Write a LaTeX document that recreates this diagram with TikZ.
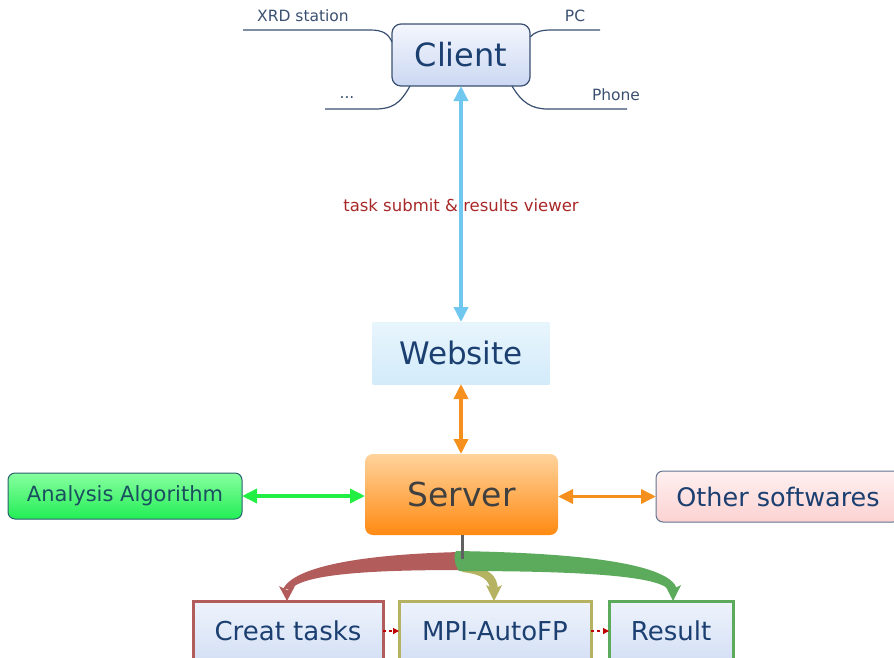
\documentclass[tikz,border=0pt]{standalone}
\usepackage{fontspec}
\setmainfont{DejaVu Sans}
\usetikzlibrary{arrows.meta}
\definecolor{txtblue}{HTML}{1B3F70}
\definecolor{linec}{HTML}{3A5070}
\definecolor{skyc}{HTML}{70C8F0}
\definecolor{orangec}{HTML}{F5901E}
\definecolor{greenarr}{HTML}{22EE44}
\definecolor{labelred}{HTML}{A82828}
\definecolor{redc}{HTML}{B25C5C}
\definecolor{olivec}{HTML}{B5B262}
\definecolor{greenc}{HTML}{5CAB5C}
\definecolor{stemc}{HTML}{606060}
\definecolor{lbtop}{HTML}{F4F6FD}
\definecolor{lbbot}{HTML}{CBD8F2}
\definecolor{tbtop}{HTML}{EEF3FC}
\definecolor{tbbot}{HTML}{D4E0F5}
\definecolor{webtop}{HTML}{E8F5FD}
\definecolor{webbot}{HTML}{D3EBFA}
\definecolor{srvtop}{HTML}{FFD39C}
\definecolor{srvbot}{HTML}{FF8A12}
\definecolor{algtop}{HTML}{88FFA0}
\definecolor{algbot}{HTML}{22EE55}
\definecolor{algline}{HTML}{2A6070}
\definecolor{algtext}{HTML}{1A4F5F}
\definecolor{othtop}{HTML}{FFF0F0}
\definecolor{othbot}{HTML}{FCD2D2}
\tikzset{
  every node/.style={inner sep=0pt, outer sep=0pt},
  clientbox/.style={top color=lbtop, bottom color=lbbot, text=txtblue, draw=linec, line width=1.2pt, rounded corners=9pt, minimum width=138pt, minimum height=62pt, font=\fontsize{32}{34}\selectfont},
  webbox/.style={top color=webtop, bottom color=webbot, text=txtblue, minimum width=177pt, minimum height=62pt, font=\fontsize{31}{33}\selectfont},
  serverbox/.style={top color=srvtop, bottom color=srvbot, rounded corners=8pt, text=black!75, minimum width=193pt, minimum height=81pt, font=\fontsize{33}{35}\selectfont},
  algbox/.style={top color=algtop, bottom color=algbot, draw=algline, line width=1pt, rounded corners=7pt, text=algtext, minimum width=234pt, minimum height=46pt, font=\fontsize{21}{23}\selectfont},
  otherbox/.style={top color=othtop, bottom color=othbot, draw=linec!80, line width=1pt, rounded corners=7pt, text=txtblue, minimum width=244pt, minimum height=51pt, font=\fontsize{25.5}{27}\selectfont},
  taskbox/.style={top color=tbtop, bottom color=tbbot, text=txtblue, line width=3pt, minimum height=60pt, font=\fontsize{26}{28}\selectfont},
  smalllabel/.style={text=linec, font=\fontsize{15.5}{17}\selectfont},
  leafline/.style={draw=linec, line width=1.2pt},
  dbl/.style={line width=3.5pt, {Triangle[width=14pt,length=15pt]}-{Triangle[width=14pt,length=15pt]}},
  seqarrow/.style={draw=red!75!black, dashed, line width=1.2pt, -{Triangle[width=6pt,length=6pt]}}
}
\begin{document}
\begin{tikzpicture}[x=1pt,y=-1pt]
\useasboundingbox (0,0) rectangle (894,657);
\clip (0,0) rectangle (894,657);
% nodes
\node[clientbox] (client) at (461,55) {Client};
\node[webbox] (web) at (461,353) {Website};
\node[serverbox] (server) at (461.5,494.5) {Server};
\node[algbox] (alg) at (125,496) {Analysis Algorithm};
\node[otherbox] (other) at (778,496.5) {Other softwares};
\node[taskbox, draw=redc, minimum width=190pt] (creat) at (288,631) {Creat tasks};
\node[taskbox, draw=olivec, minimum width=192pt] (mpi) at (495,631) {MPI-AutoFP};
\node[taskbox, draw=greenc, minimum width=124pt] (result) at (671,631) {Result};
% client leaves
\node[smalllabel] (xrd) at (303,16) {XRD station};
\node[smalllabel] (pc) at (575,16) {PC};
\node[smalllabel] (dots) at (347,98) {...};
\node[smalllabel] (phone) at (616,95) {Phone};
\coordinate (xrdE) at (243,30);
\coordinate (pcE) at (600,30);
\coordinate (dotsE) at (325,109);
\coordinate (phoneE) at (627,109);
\draw[leafline] (client.west |- 0,42) .. controls (388,33) and (382,30) .. (370,30) -- (xrdE);
\draw[leafline] (client.east |- 0,37) .. controls (535,32) and (540,30) .. (552,30) -- (pcE);
\draw[leafline] (410,86) .. controls (400,104) and (392,109) .. (375,109) -- (dotsE);
\draw[leafline] (512,86) .. controls (522,103) and (532,109) .. (548,109) -- (phoneE);
% arrows
\draw[dbl, skyc] (client.south) -- (web.north);
\node[text=labelred, font=\fontsize{16.5}{18}\selectfont] (lab) at (461,205) {task submit \& results viewer};
\draw[dbl, orangec] (web.south) -- (web.south |- server.north);
\draw[dbl, greenarr] (alg.east) -- (alg.east -| server.west);
\draw[dbl, orangec] (other.west -| server.east) -- (other.west);
% bands
\fill[olivec] (466,565) .. controls (490,568) and (497,576) .. (498,589) -- (490,589) .. controls (489,580) and (482,574) .. (462,572) -- cycle;
\fill[olivec] (486,585) -- (494,601) -- (502,585) -- (494,589) -- cycle;
\fill[redc] (461,552) .. controls (370,554) and (295,565) .. (283,589) -- (291,589) .. controls (305,573) and (380,570) .. (461,570) -- cycle;
\fill[redc] (279,586) -- (287,601) -- (295,586) -- (287,590) -- cycle;
\fill[greenc] (456,551) .. controls (590,553) and (670,565) .. (677,589) -- (668,589) .. controls (655,575) and (570,571) .. (459,571) .. controls (455,566) and (453,556) .. (456,551) -- cycle;
\fill[greenc] (665,585) -- (673,601) -- (681,585) -- (673,589) -- cycle;
\coordinate (stem) at (462,559);
\draw[stemc, line width=3pt] (server.south -| stem) -- (stem);
% sequence arrows
\draw[seqarrow] (creat.east) -- (mpi.west);
\draw[seqarrow] (mpi.east) -- (result.west);
\end{tikzpicture}
\end{document}
